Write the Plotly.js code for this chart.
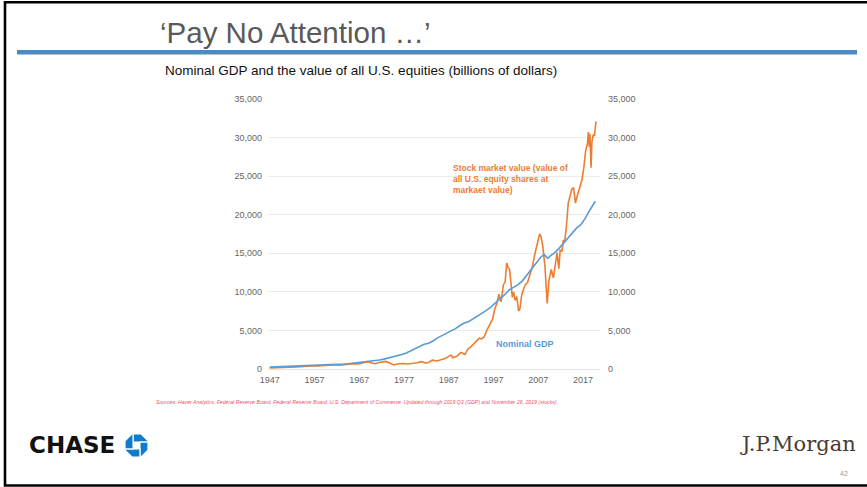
<!DOCTYPE html>
<html>
<head>
<meta charset="utf-8">
<script src="https://cdn.plot.ly/plotly-3.0.1.min.js"></script>
<style>
  html, body { margin: 0; padding: 0; background: #ffffff; }
  #chart { width: 867px; height: 487px; }
</style>
</head>
<body>
<div id="chart"></div>
<script>
// ---------------- DATA ----------------
const stockYears = [
  1947.0, 1948.0, 1949.5, 1951.0, 1953.0, 1954.5, 1956.0, 1957.8, 1959.5, 1961.5,
  1962.5, 1964.0, 1965.8, 1966.8, 1968.0, 1968.9, 1969.8, 1970.5, 1971.5, 1972.9,
  1973.8, 1974.7, 1975.5, 1976.8, 1977.8, 1978.8, 1980.0, 1980.8, 1981.8, 1982.5,
  1983.3, 1984.4, 1985.4, 1986.3, 1987.5, 1987.9, 1988.8, 1989.7, 1990.6, 1991.3,
  1992.0, 1992.9, 1993.8, 1994.3, 1994.9, 1995.5, 1996.2, 1996.8, 1997.3, 1997.8,
  1998.2, 1998.7, 1999.2, 1999.6, 1999.95, 2000.3, 2000.6, 2000.9, 2001.2, 2001.5,
  2001.8, 2002.2, 2002.6, 2002.9, 2003.3, 2003.8, 2004.2, 2004.6, 2005.2, 2005.7,
  2006.2, 2006.8, 2007.3, 2007.6, 2008.0, 2008.5, 2008.8, 2009.0, 2009.4, 2009.9,
  2010.4, 2010.9, 2011.2, 2011.6, 2011.9, 2012.3, 2012.6, 2012.9, 2013.3, 2013.7,
  2014.1, 2014.5, 2014.9, 2015.3, 2015.6, 2016.0, 2016.4, 2016.8, 2017.2, 2017.6,
  2018.0, 2018.2, 2018.4, 2018.55, 2018.8, 2019.0, 2019.3, 2019.55, 2019.9
];
const stockValues = [
  150, 160, 170, 220, 260, 330, 400, 380, 480, 560,
  480, 600, 700, 640, 830, 950, 780, 680, 850, 980,
  780, 520, 650, 720, 640, 700, 820, 950, 800, 850,
  1150, 1030, 1200, 1380, 1800, 1450, 1650, 2150, 1900, 2600,
  2900, 3500, 4000, 3900, 4150, 5000, 5800, 6500, 7800, 8600,
  9700, 8700, 10900, 11300, 13750, 13100, 12900, 11200, 9300, 10000,
  8900, 9400, 7500, 7800, 9600, 10500, 11000, 11200, 12300, 13300,
  14800, 16500, 17500, 17200, 16000, 13300, 10500, 8500, 11500, 12900,
  11800, 14200, 15100, 13000, 15400, 15300, 16700, 16500, 18500, 21500,
  22500, 23300, 23500, 21500, 22200, 23000, 24000, 24600, 26200, 28300,
  29200, 30700, 28800, 30500, 26100, 29500, 30400, 30200, 32100
];

const gdpYears = [
  1947.0, 1948.5, 1949.5, 1950.5, 1951.5, 1952.5, 1953.5, 1954.5, 1955.5, 1956.5,
  1957.5, 1958.5, 1959.5, 1960.5, 1961.5, 1962.5, 1963.5, 1964.5, 1965.5, 1966.5,
  1967.5, 1968.5, 1969.5, 1970.5, 1971.5, 1972.5, 1973.5, 1974.5, 1975.5, 1976.5,
  1977.5, 1978.5, 1979.5, 1980.5, 1981.5, 1982.5, 1983.5, 1984.5, 1985.5, 1986.5,
  1987.5, 1988.5, 1989.5, 1990.5, 1991.5, 1992.5, 1993.5, 1994.5, 1995.5, 1996.5,
  1997.5, 1998.5, 1999.5, 2000.5, 2001.5, 2002.5, 2003.5, 2004.5, 2005.5, 2006.5,
  2007.5, 2008.3, 2009.1, 2009.9, 2010.5, 2011.5, 2012.5, 2013.5, 2014.5, 2015.5,
  2016.5, 2017.5, 2018.5, 2019.5, 2019.75
];
const gdpValues = [
  243, 274, 272, 300, 347, 367, 389, 391, 426, 450,
  474, 481, 522, 543, 563, 605, 638, 686, 743, 815,
  862, 943, 1019, 1073, 1165, 1280, 1425, 1545, 1685, 1873,
  2082, 2352, 2627, 2857, 3207, 3343, 3634, 4037, 4339, 4580,
  4855, 5236, 5642, 5963, 6158, 6520, 6859, 7287, 7640, 8073,
  8578, 9063, 9631, 10252, 10582, 10936, 11458, 12214, 13037, 13815,
  14452, 14850, 14350, 14750, 15000, 15543, 16197, 16785, 17527, 18225,
  18715, 19519, 20580, 21450, 21750
];

const xTickYears = [1947, 1957, 1967, 1977, 1987, 1997, 2007, 2017];
const xTickLabels = ['1947', '1957', '1967', '1977', '1987', '1997', '2007', '2017'];
const yTickValues = [0, 5000, 10000, 15000, 20000, 25000, 30000, 35000];
const yTickLabels = ['0', '5,000', '10,000', '15,000', '20,000', '25,000', '30,000', '35,000'];

// ---------------- LAYOUT HELPERS ----------------
const W = 867, H = 487;
const M = { l: 268, r: 267, t: 99, b: 118 };
const PW = W - M.l - M.r, PH = H - M.t - M.b;
const px = p => (p - M.l) / PW;           // pixel x -> paper
const py = p => (H - M.b - p) / PH;       // pixel y (from top) -> paper

function poly(points) {
  return 'M ' + points.map(pt => px(pt[0]).toFixed(5) + ',' + py(pt[1]).toFixed(5)).join(' L ') + ' Z';
}

// Chase octagon (pinwheel of four pieces) — decoration
const cx0 = 125, cy0 = 434, u = 2.3;
const pieceDefs = [
  [[3.5,0],[7,0],[10,3],[10,3.5],[3.5,3.5]],
  [[6.5,3.5],[10,3.5],[10,7],[7,10],[6.5,10]],
  [[0,6.5],[6.5,6.5],[6.5,10],[3,10],[0,7]],
  [[3,0],[3.5,0],[3.5,6.5],[0,6.5],[0,3]]
];
const chaseShapes = pieceDefs.map(pts => ({
  type: 'path', xref: 'paper', yref: 'paper', layer: 'above',
  path: poly(pts.map(q => [cx0 + q[0] * u, cy0 + q[1] * u])),
  fillcolor: '#117aca', line: { color: '#ffffff', width: 1.2 }
}));

const shapes = [
  // slide frame
  { type: 'rect', xref: 'paper', yref: 'paper', x0: px(5), x1: px(880), y0: py(485.5), y1: py(2.2),
    line: { color: '#000000', width: 2.6 }, fillcolor: 'rgba(0,0,0,0)', layer: 'above' },
  // blue rule under title
  { type: 'rect', xref: 'paper', yref: 'paper', x0: px(17), x1: px(857), y0: py(54.5), y1: py(50),
    line: { width: 0 }, fillcolor: '#4a8bc4', layer: 'above' }
].concat(chaseShapes);

const tickFont = { family: 'Arial, Liberation Sans, sans-serif', size: 9, color: '#666666' };

const traces = [
  {
    x: gdpYears, y: gdpValues, type: 'scatter', mode: 'lines', name: 'Nominal GDP',
    yaxis: 'y2',
    line: { color: '#5b9bd5', width: 1.6 }, hoverinfo: 'skip'
  },
  {
    x: stockYears, y: stockValues, type: 'scatter', mode: 'lines', name: 'Stock market value',
    line: { color: '#ed7d31', width: 1.6 }, hoverinfo: 'skip'
  }
];

const layout = {
  width: W, height: H, autosize: false,
  margin: { l: M.l, r: M.r, t: M.t, b: M.b, pad: 0 },
  paper_bgcolor: '#ffffff', plot_bgcolor: '#ffffff',
  showlegend: false,
  title: {
    text: '\u2018Pay No Attention \u2026\u2019',
    xref: 'container', yref: 'container', x: 160 / W, xanchor: 'left',
    y: 1 - 33 / H, yanchor: 'middle',
    font: { family: 'Arial, Liberation Sans, sans-serif', size: 29.5, color: '#595959' }
  },
  xaxis: {
    range: [1946.6, 2020.8], tickmode: 'array', tickvals: xTickYears, ticktext: xTickLabels,
    showgrid: false, zeroline: false, showline: false, ticks: '', tickfont: tickFont,
    ticklabelstandoff: 4, fixedrange: true
  },
  yaxis: {
    range: [0, 35000], tickmode: 'array', tickvals: yTickValues, ticktext: yTickLabels,
    showgrid: true, gridcolor: '#ebebeb', gridwidth: 1, zeroline: true, zerolinecolor: '#e3e3e3',
    zerolinewidth: 1, showline: false, ticks: '', tickfont: tickFont,
    ticklabelstandoff: 5, fixedrange: true
  },
  yaxis2: {
    overlaying: 'y', side: 'right', anchor: 'x',
    range: [0, 35000], tickmode: 'array', tickvals: yTickValues, ticktext: yTickLabels,
    showgrid: false, zeroline: false, showline: false, ticks: '', tickfont: tickFont,
    ticklabelstandoff: 7, fixedrange: true
  },
  shapes: shapes,
  annotations: [
    { text: 'Nominal GDP and the value of all U.S. equities (billions of dollars)',
      xref: 'paper', yref: 'paper', x: px(163), y: py(70), xanchor: 'left', yanchor: 'middle',
      showarrow: false, font: { family: 'Arial, Liberation Sans, sans-serif', size: 13.5, color: '#111111' } },
    { text: '<b>Stock market value (value of<br>all U.S. equity shares at<br>markaet value)</b>',
      xref: 'x', yref: 'y', x: 1987.4, y: 26900, xanchor: 'left', yanchor: 'top', align: 'left',
      showarrow: false, font: { family: 'Arial, Liberation Sans, sans-serif', size: 8.5, color: '#ed7d31' } },
    { text: '<b>Nominal GDP</b>',
      xref: 'x', yref: 'y', x: 1997.0, y: 3250, xanchor: 'left', yanchor: 'middle',
      showarrow: false, font: { family: 'Arial, Liberation Sans, sans-serif', size: 9, color: '#5b9bd5' } },
    { text: '<i>Sources: Haver Analytics, Federal Reserve Board, Federal Reserve Board, U.S. Department of Commerce. Updated through 2019 Q3 (GDP) and November 26, 2019 (stocks).</i>',
      xref: 'paper', yref: 'paper', x: px(154), y: py(402), xanchor: 'left', yanchor: 'middle',
      showarrow: false, font: { family: 'Arial, Liberation Sans, sans-serif', size: 5.2, color: '#ef4f6f' } },
    { text: '<b>CHASE</b>',
      xref: 'paper', yref: 'paper', x: px(27), y: py(445), xanchor: 'left', yanchor: 'middle',
      showarrow: false, font: { family: 'DejaVu Sans, sans-serif', size: 23, color: '#111111' } },
    { text: 'J.P.Morgan',
      xref: 'paper', yref: 'paper', x: px(858), y: py(444), xanchor: 'right', yanchor: 'middle',
      showarrow: false, font: { family: 'DejaVu Serif, Liberation Serif, serif', size: 21, color: '#4a3c34' } },
    { text: '42',
      xref: 'paper', yref: 'paper', x: px(850), y: py(473), xanchor: 'right', yanchor: 'middle',
      showarrow: false, font: { family: 'Arial, Liberation Sans, sans-serif', size: 7, color: '#999999' } }
  ]
};

Plotly.newPlot('chart', traces, layout, { displayModeBar: false, staticPlot: true });
</script>
</body>
</html>
